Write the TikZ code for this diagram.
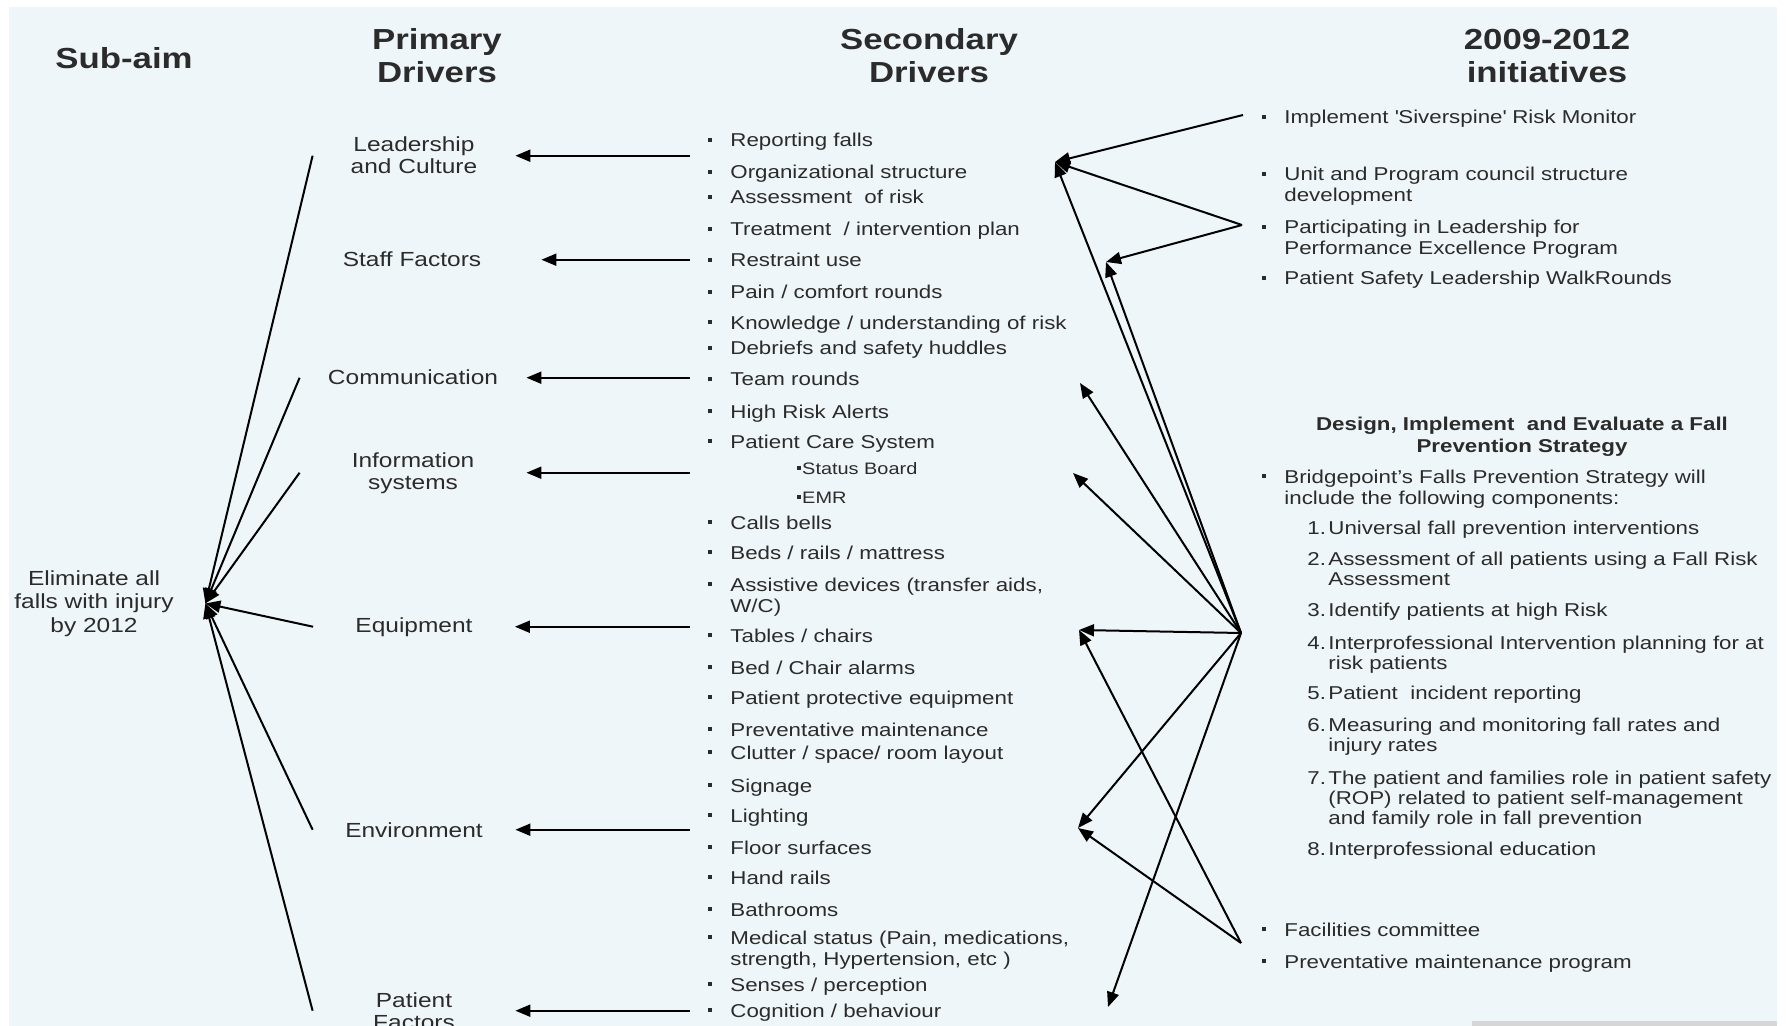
\documentclass[tikz,border=0pt]{standalone}
\usepackage{fontspec}
\setmainfont[FakeStretch=1.2]{Liberation Sans}
\usetikzlibrary{arrows.meta}
\definecolor{paper}{HTML}{EFF6F9}
\definecolor{ink}{HTML}{2B2B2B}
\definecolor{strip}{HTML}{D6D6D6}
\newcommand{\bul}{\llap{\rule[2.35pt]{2pt}{2pt}\hspace{9pt}}}
\newcommand{\subbul}{\rule[2.1pt]{1.8pt}{1.8pt}\hspace{0.6pt}}
\newcommand{\num}[1]{\llap{#1.\hspace{1.2pt}}}
\tikzset{
  head/.style={font=\fontsize{14.5}{16.7}\selectfont\bfseries, text=ink, align=center, anchor=base, inner sep=0pt},
  prim/.style={font=\fontsize{10.2}{11}\selectfont, text=ink, align=center, anchor=base, inner sep=0pt},
  aimbox/.style={prim, font=\fontsize{10.2}{11.65}\selectfont},
  item/.style={font=\fontsize{9.3}{10.5}\selectfont, text=ink, align=left, anchor=base west, inner sep=0pt},
  numitem/.style={item, font=\fontsize{9.3}{10}\selectfont},
  subitem/.style={item, font=\fontsize{8.3}{10}\selectfont},
  strathead/.style={item, font=\fontsize{9.3}{11}\selectfont\bfseries, align=center, anchor=base},
  link/.style={line width=1pt, ->},
  >={Triangle[length=7.5pt,width=6pt]}
}
\begin{document}
\begin{tikzpicture}[x=0.5pt,y=-0.5pt]
\useasboundingbox (0,0) rectangle (1786,1026);
\fill[white] (0,0) rectangle (1786,1026);
\fill[paper] (9,7) rectangle (1777,1026);
\fill[strip] (1472,1021) rectangle (1777,1026);

\node[head] (h-aim) at (124,69) {Sub-aim};
\node[head] (h-prim) at (437,83) {Primary\\Drivers};
\node[head] (h-sec) at (929,83) {Secondary\\Drivers};
\node[head] (h-init) at (1547,83) {2009-2012\\initiatives};

\node[aimbox, minimum width=111pt] (aim) at (94,632) {Eliminate all\\falls with injury\\by 2012};

\node[prim, minimum width=101pt] (lead) at (414,174) {Leadership\\and Culture};
\node[prim, minimum width=129pt] (staff) at (412,267) {Staff Factors};
\node[prim, minimum width=113pt] (comm) at (413,385) {Communication};
\node[prim, minimum width=113pt] (info) at (413,489) {Information\\systems};
\node[prim, minimum width=100.5pt] (equip) at (414,632) {Equipment};
\node[prim, minimum width=101pt] (env) at (414,837) {Environment};
\node[prim, minimum width=101pt] (pat) at (414,1029) {Patient\\Factors};

\node[item] (rep) at (730,147) {\bul Reporting falls};
\node[item] (org) at (730,179) {\bul Organizational structure};
\node[item] (ass) at (730,204) {\bul Assessment\ \ of risk};
\node[item] (treat) at (730,236) {\bul Treatment\ \ / intervention plan};
\node[item] (restr) at (730,267) {\bul Restraint use};
\node[item] (pain) at (730,299) {\bul Pain / comfort rounds};
\node[item] (know) at (730,329) {\bul Knowledge / understanding of risk};
\node[item] (debr) at (730,355) {\bul Debriefs and safety huddles};
\node[item] (team) at (730,386) {\bul Team rounds};
\node[item] (alert) at (730,418) {\bul High Risk Alerts};
\node[item] (pcs) at (730,448) {\bul Patient Care System};
\node[subitem] (board) at (797,474) {\subbul Status Board};
\node[subitem] (emr) at (797,503) {\subbul EMR};
\node[item] (bell) at (730,529) {\bul Calls bells};
\node[item] (beds) at (730,559) {\bul Beds / rails / mattress};
\node[item] (assist) at (730,612) {\bul Assistive devices (transfer aids,\\W/C)};
\node[item] (tabl) at (730,642) {\bul Tables / chairs};
\node[item] (alarm) at (730,674) {\bul Bed / Chair alarms};
\node[item] (ppe) at (730,704) {\bul Patient protective equipment};
\node[item] (maint) at (730,736) {\bul Preventative maintenance};
\node[item] (clut) at (730,759) {\bul Clutter / space/ room layout};
\node[item] (sign) at (730,792) {\bul Signage};
\node[item] (light) at (730,822) {\bul Lighting};
\node[item] (floor) at (730,854) {\bul Floor surfaces};
\node[item] (rail) at (730,884) {\bul Hand rails};
\node[item] (bath) at (730,916) {\bul Bathrooms};
\node[item] (med) at (730,965) {\bul Medical status (Pain, medications,\\strength, Hypertension, etc )};
\node[item] (sens) at (730,991) {\bul Senses / perception};
\node[item] (cogn) at (730,1017) {\bul Cognition / behaviour};

\node[item] (mon) at (1284,124) {\bul Implement \textquotesingle Siverspine\textquotesingle\ Risk Monitor};
\node[item] (unit) at (1284,202) {\bul Unit and Program council structure\\development};
\node[item] (part) at (1284,255) {\bul Participating in Leadership for\\Performance Excellence Program};
\node[item] (walk) at (1284,285) {\bul Patient Safety Leadership WalkRounds};
\node[strathead] (strat) at (1522,452) {Design, Implement\ \ and Evaluate a Fall\\Prevention Strategy};
\node[item] (bridge) at (1284,504) {\bul Bridgepoint's Falls Prevention Strategy will\\include the following components:};
\node[numitem] (n1) at (1328,534) {\num{1}Universal fall prevention interventions};
\node[numitem] (n2) at (1328,585) {\num{2}Assessment of all patients using a Fall Risk\\Assessment};
\node[numitem] (n3) at (1328,616) {\num{3}Identify patients at high Risk};
\node[numitem] (n4) at (1328,669) {\num{4}Interprofessional Intervention planning for at\\risk patients};
\node[numitem] (n5) at (1328,699) {\num{5}Patient\ \ incident reporting};
\node[numitem] (n6) at (1328,751) {\num{6}Measuring and monitoring fall rates and\\injury rates};
\node[numitem] (n7) at (1328,824) {\num{7}The patient and families role in patient safety\\(ROP) related to patient self-management\\and family role in fall prevention};
\node[numitem] (n8) at (1328,855) {\num{8}Interprofessional education};
\node[item] (fac) at (1284,936) {\bul Facilities committee};
\node[item] (pm) at (1284,968) {\bul Preventative maintenance program};

\coordinate (sec) at (690,0);
\draw[link] (lead.east -| sec) -- (lead.east);
\draw[link] (staff.east -| sec) -- (staff.east);
\draw[link] (comm.east -| sec) -- (comm.east);
\draw[link] (info.east -| sec) -- (info.east);
\draw[link] (equip.east -| sec) -- (equip.east);
\draw[link] (env.east -| sec) -- (env.east);
\draw[link] (pat.east -| sec) -- (pat.east);

\draw[link] (lead.west) -- (aim.east);
\draw[link] (comm.west) -- (aim.east);
\draw[link] (info.west) -- (aim.east);
\draw[link] (equip.west) -- (aim.east);
\draw[link] (env.west) -- (aim.east);
\draw[link] (pat.west) -- (aim.east);

\coordinate (a-mon) at (1243,115);
\coordinate (a-part) at (1242,225);
\coordinate (a-strat) at (1241,633);
\coordinate (a-fac) at (1241,943);
\coordinate (t-lead) at (1055,162);
\coordinate (t-staff) at (1106,262);
\coordinate (t-comm) at (1080,383);
\coordinate (t-info) at (1073,473);
\coordinate (t-equip) at (1079,630);
\coordinate (t-env) at (1078,828);
\coordinate (t-pat) at (1108,1007);
\draw[link] (a-mon) -- (t-lead);
\draw[link] (a-part) -- (t-lead);
\draw[link] (a-part) -- (t-staff);
\draw[link] (a-strat) -- (t-lead);
\draw[link] (a-strat) -- (t-staff);
\draw[link] (a-strat) -- (t-comm);
\draw[link] (a-strat) -- (t-info);
\draw[link] (a-strat) -- (t-equip);
\draw[link] (a-strat) -- (t-env);
\draw[link] (a-strat) -- (t-pat);
\draw[link] (a-fac) -- (t-equip);
\draw[link] (a-fac) -- (t-env);
\end{tikzpicture}
\end{document}
